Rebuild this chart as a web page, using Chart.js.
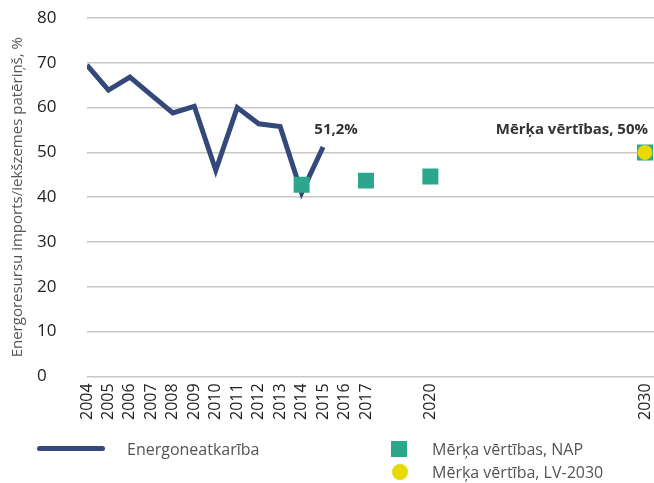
<!DOCTYPE html>
<html>
<head>
<meta charset="utf-8">
<script src="https://cdn.jsdelivr.net/npm/chart.js@4.4.1/dist/chart.umd.min.js"></script>
<style>
  html, body { margin: 0; padding: 0; background: #fff; }
  #wrap { position: relative; width: 654px; height: 483px; }
  #legend { position: absolute; left: 0; top: 0; width: 654px; height: 483px; pointer-events: none;
            font-family: "Open Sans", sans-serif; font-size: 16px; color: #555; }
  .item { position: absolute; line-height: 20px; white-space: nowrap; }
  .sw { position: absolute; }
</style>
</head>
<body>
<div id="wrap">
  <canvas id="myChart" width="654" height="483"></canvas>
  <div id="legend">
    <div class="sw" style="left:37px;top:446px;width:68px;height:5px;border-radius:3px;background:#34497a"></div>
    <div class="item" style="left:127px;top:439px">Energoneatkarība</div>
    <div class="sw" style="left:391px;top:441px;width:16px;height:16px;background:#2ba88c"></div>
    <div class="item" style="left:432px;top:439px">Mērķa vērtības, NAP</div>
    <div class="sw" style="left:392px;top:464px;width:16px;height:16px;border-radius:50%;background:#e8da00"></div>
    <div class="item" style="left:432px;top:462px">Mērķa vērtība, LV-2030</div>
  </div>
</div>
<script>
var ctx = document.getElementById("myChart").getContext('2d');

// energy import dependency, %
var years = [2004, 2005, 2006, 2007, 2008, 2009, 2010, 2011, 2012, 2013, 2014, 2015];
var energoneatkariba = [69.5, 63.9, 66.8, 62.8, 58.8, 60.3, 46.0, 60.0, 56.4, 55.8, 41.0, 51.2];

// target values
var napYears = [2014, 2017, 2020, 2030];
var napValues = [42.8, 43.7, 44.6, 50];
var lvYears = [2030];
var lvValues = [50];

var tickYears = [2004, 2005, 2006, 2007, 2008, 2009, 2010, 2011, 2012, 2013, 2014, 2015, 2016, 2017, 2020, 2030];
var yTitle = 'Energoresursu imports/iekšzemes patēriņš, %';

function toPoints(xs, ys){
    var pts = [];
    for(var i = 0; i < xs.length; i++){
        pts.push({x: xs[i], y: ys[i]});
    }
    return pts;
}

// bold value notes next to the last actual point and the 2030 target,
// plus the y axis title drawn at the far left edge
var notesPlugin = {
    id: 'notes',
    afterDatasetsDraw: function(chart){
        var c = chart.ctx;
        var area = chart.chartArea;
        var last = chart.getDatasetMeta(2).data[years.length - 1];
        var target = chart.getDatasetMeta(0).data[0];
        c.save();
        c.font = 'bold 15px "Open Sans", sans-serif';
        c.fillStyle = '#333';
        c.textBaseline = 'middle';
        c.textAlign = 'center';
        c.fillText(energoneatkariba[years.length - 1].toString().replace('.', ',') + '%', last.x + 13, last.y - 17);
        c.textAlign = 'right';
        c.fillText('Mērķa vērtības, ' + lvValues[0] + '%', target.x + 3, target.y - 23);

        c.translate(18, (area.top + area.bottom) / 2);
        c.rotate(-Math.PI / 2);
        c.font = '15px "Open Sans", sans-serif';
        c.fillStyle = '#555';
        c.textAlign = 'center';
        c.fillText(yTitle, 0, 0);
        c.restore();
    }
};

var myChart = new Chart(ctx, {
    type: 'scatter',
    data: {
        datasets: [{
            label: 'Mērķa vērtība, LV-2030',
            data: toPoints(lvYears, lvValues),
            backgroundColor: '#e8da00',
            borderWidth: 0,
            pointRadius: 7.5,
            order: 0
        }, {
            label: 'Mērķa vērtības, NAP',
            data: toPoints(napYears, napValues),
            backgroundColor: '#2ba88c',
            borderWidth: 0,
            pointStyle: 'rect',
            pointRadius: 11.3,
            order: 1
        }, {
            type: 'line',
            label: 'Energoneatkarība',
            data: toPoints(years, energoneatkariba),
            borderColor: '#34497a',
            borderWidth: 5,
            borderJoinStyle: 'miter',
            pointRadius: 0,
            tension: 0,
            fill: false,
            order: 2
        }]
    },
    options: {
        animation: false,
        responsive: false,
        layout: { autoPadding: false, padding: { left: 37, top: 18, right: 0, bottom: 56 } },
        plugins: { legend: { display: false }, tooltip: { enabled: false } },
        scales: {
            x: {
                type: 'linear',
                min: 2004,
                max: 2030.42,
                afterBuildTicks: function(scale){
                    scale.ticks = tickYears.map(function(v){ return {value: v}; });
                },
                afterFit: function(scale){
                    scale.paddingLeft = 0;
                    scale.paddingRight = 0;
                },
                grid: { display: false, drawTicks: false },
                border: { display: false },
                ticks: {
                    autoSkip: false,
                    minRotation: 90,
                    maxRotation: 90,
                    padding: 7,
                    color: '#222',
                    font: { family: '"Open Sans", sans-serif', size: 16 },
                    callback: function(v){ return String(v); }
                }
            },
            y: {
                min: 0,
                max: 80,
                ticks: {
                    stepSize: 10,
                    crossAlign: 'far',
                    padding: 30,
                    color: '#222',
                    font: { family: '"Open Sans", sans-serif', size: 17 }
                },
                grid: { color: '#c8c8c8', lineWidth: 1.5, drawTicks: false },
                border: { display: false },
                afterFit: function(scale){
                    scale.width = 50;
                    scale.paddingTop = 0;
                    scale.paddingBottom = 0;
                }
            }
        }
    },
    plugins: [notesPlugin]
});
</script>
</body>
</html>
